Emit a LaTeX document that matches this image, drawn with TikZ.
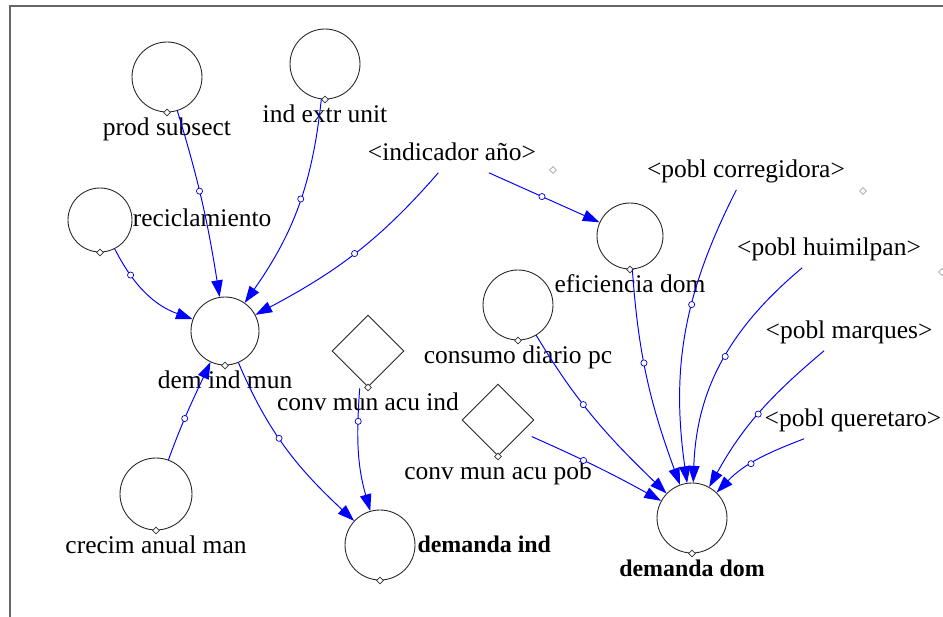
\documentclass[tikz,border=0pt]{standalone}
\usepackage{fontspec}
\setmainfont{Liberation Serif}
\usepackage{tikz}
\usetikzlibrary{shapes.geometric,positioning,arrows.meta}

\newcommand{\varfont}{\fontsize{14.5}{17}\selectfont}
\newcommand{\outfont}{\bfseries\fontsize{13.6}{16}\selectfont}

\begin{document}
\begin{tikzpicture}[x=0.02cm, y=-0.02cm, node distance=3pt,
        var/.style={draw=black!85, circle, minimum size=1.4cm, inner sep=0pt, line width=0.5pt},
        const/.style={draw=black!85, diamond, minimum size=1.44cm, inner sep=0pt, line width=0.5pt},
        lbl/.style={inner sep=0pt, text height=10pt, text depth=3pt, font=\varfont},
        outlbl/.style={inner sep=0pt, text height=10pt, text depth=3pt, font=\outfont},
        shadowvar/.style={inner xsep=1pt, inner ysep=4pt, text height=10pt, text depth=3pt, font=\varfont},
        tick/.style={draw=black!80, fill=white, diamond, inner sep=0pt, minimum size=4pt, line width=0.4pt},
        pin/.style={draw=black!35, diamond, inner sep=0pt, minimum size=4pt, line width=0.4pt},
        handle/.style={draw=blue!80!black, fill=white, circle, inner sep=0pt, minimum size=3.5pt, line width=0.4pt},
        link/.style={draw=blue, line width=0.55pt, -{Triangle[length=9.5pt,width=6.5pt]}},
        frame/.style={draw=black!60, line width=0.6pt}
    ]
        \useasboundingbox (0,0) rectangle (943,617);
        \draw[frame] (10,617) -- (10,6) -- (943,6);

        % industrial side
        \node [var] (ps) at (167,77) {};
        \node [lbl, below=of ps] (ps-lbl) {prod subsect};
        \node [var] (ieu) at (325,64) {};
        \node [lbl, below=of ieu] (ieu-lbl) {ind extr unit};
        \node [var, minimum size=1.28cm] (rec) at (100,220) {};
        \node [lbl, right=0pt of rec] (rec-lbl) {reciclamiento};
        \node [var, minimum size=1.36cm] (dim) at (225,331) {};
        \node [lbl, below=of dim] (dim-lbl) {dem ind mun};
        \node [var, minimum size=1.44cm] (cam) at (156,494) {};
        \node [lbl, below=of cam] (cam-lbl) {crecim anual man};
        \node [const] (cmi) at (368,351) {};
        \node [lbl, below=of cmi] (cmi-lbl) {conv mun acu ind};
        \node [var] (dind) at (380,545) {};
        \node [outlbl, right=1pt of dind, yshift=-1pt] (dind-lbl) {demanda ind};

        % domestic side
        \node [shadowvar] (ia) at (452,154) {<indicador año>};
        \node [var, minimum size=1.32cm] (ef) at (630,236) {};
        \node [lbl, below=of ef] (ef-lbl) {eficiencia dom};
        \node [var] (cd) at (518,305) {};
        \node [lbl, below=of cd] (cd-lbl) {consumo diario pc};
        \node [const] (cmp) at (498,420) {};
        \node [lbl, below=of cmp] (cmp-lbl) {conv mun acu pob};
        \node [var] (ddom) at (692,518) {};
        \node [outlbl, below=of ddom] (ddom-lbl) {demanda dom};
        \node [shadowvar] (pc) at (746,171) {<pobl corregidora>};
        \node [shadowvar] (ph) at (829,249) {<pobl huimilpan>};
        \node [shadowvar] (pm) at (849,332) {<pobl marques>};
        \node [shadowvar] (pq) at (853,420) {<pobl queretaro>};

        % loose anchors of the shadow variables
        \node [pin] (ia-pin) at (553,170) {};
        \node [pin] (pc-pin) at (863,191) {};
        \node [pin] (ph-pin) at (942,272) {};

        \foreach \v in {ps,ieu,rec,dim,cam,dind,ef,cd,ddom,cmi,cmp}
            \node [tick] (\v-tick) at (\v.south) {};

        % links into dem ind mun and demanda ind
        \draw [link] (ps) to[out=-73, in=99] node[handle, pos=.43] (h1) {} (dim);
        \draw [link] (ieu) to[out=-96, in=55] node[handle, pos=.46] (h2) {} (dim);
        \draw [link] (ia.-126) to[out=-131, in=28] node[handle, pos=.5] (h3) {} (dim);
        \draw [link] (rec) to[out=-63, in=160] node[handle, pos=.27] (h4) {} (dim);
        \draw [link] (cam) to[out=70, in=-115] node[handle, pos=.41] (h5) {} (dim);
        \draw [link] (dim) to[out=-67, in=137] node[handle, pos=.43] (h6) {} (dind);
        \draw [link, shorten <=5pt] (cmi.-105) to[out=-94, in=106] node[handle, pos=.3] (h7) {} (dind);

        % links into eficiencia dom and demanda dom
        \draw [link] (ia.-27) -- node[handle, pos=.48] (h8) {} (ef);
        \draw [link] (ef) to[out=-86, in=110] node[handle, pos=.42] (h9) {} (ddom);
        \draw [link] (cd) to[out=-59, in=136] node[handle, pos=.4] (h10) {} (ddom);
        \draw [link, shorten <=6pt] (cmp.-27) to[out=-24, in=151] node[handle, pos=.43] (h11) {} (ddom);
        \draw [link] (pc.-117) to[out=-117, in=98] node[handle, pos=.4] (h12) {} (ddom);
        \draw [link] (ph.-145) to[out=-140, in=88] node[handle, pos=.47] (h13) {} (ddom);
        \draw [link] (pm.-143) to[out=-140, in=61] node[handle, pos=.51] (h14) {} (ddom);
        \draw [link] (pq.-159) to[out=-159, in=46] node[handle, pos=.57] (h15) {} (ddom);
    \end{tikzpicture}
\end{document}
